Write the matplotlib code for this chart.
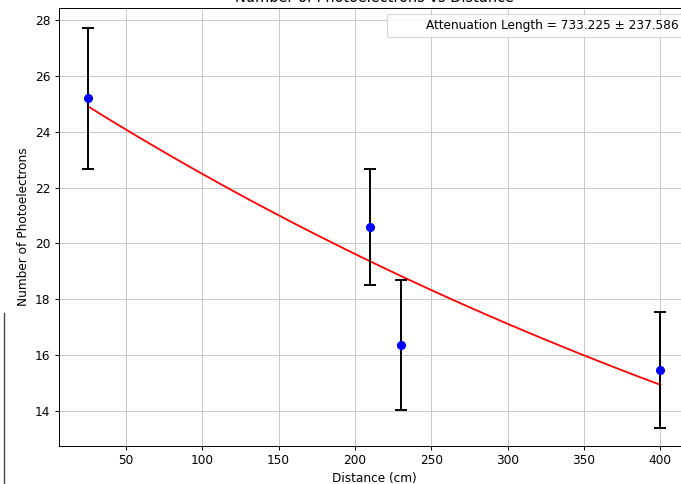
import numpy as np
import matplotlib
matplotlib.use("Agg")
import matplotlib.pyplot as plt
from matplotlib.lines import Line2D

distance = [25, 210, 230, 400]
photoelectrons = [25.2, 20.6, 16.37, 15.47]
errors = [2.52, 2.08, 2.33, 2.06]
fit_amplitude = 25.78
atten_length = 733.225
atten_err = 237.586

DPI = 87
fig = plt.figure(figsize=(681/DPI, 484/DPI), dpi=DPI)
ax = fig.add_axes([59/681, 38/484, 630/681, 438/484])

ax.errorbar(distance, photoelectrons, yerr=errors, fmt='o', color='blue',
            ecolor='black', capsize=5, markersize=6.5, elinewidth=1.6,
            capthick=1.6, zorder=3)
xf = np.linspace(min(distance), max(distance), 200)
ax.plot(xf, fit_amplitude * np.exp(-xf / atten_length), color='red', zorder=2)
ax.plot([], [], ' ', label=f'Attenuation Length = {atten_length:.3f} ± {atten_err:.3f}')

ax.set_xlabel('Distance (cm)')
ax.set_ylabel('Number of Photoelectrons')
ax.set_title('Number of Photoelectrons vs Distance', pad=5)
ax.grid(True, color='#c8c8c8')
ax.set_axisbelow(True)
ax.legend(loc='upper right')
ax.set_xlim(6.25, 418.75)
ax.set_ylim(12.75, 28.43)

fig.add_artist(Line2D([3.5/681, 3.5/681], [0, (484-313)/484], color='#444444',
                      linewidth=1.1, transform=fig.transFigure))

fig.savefig('out.png', dpi=DPI)
